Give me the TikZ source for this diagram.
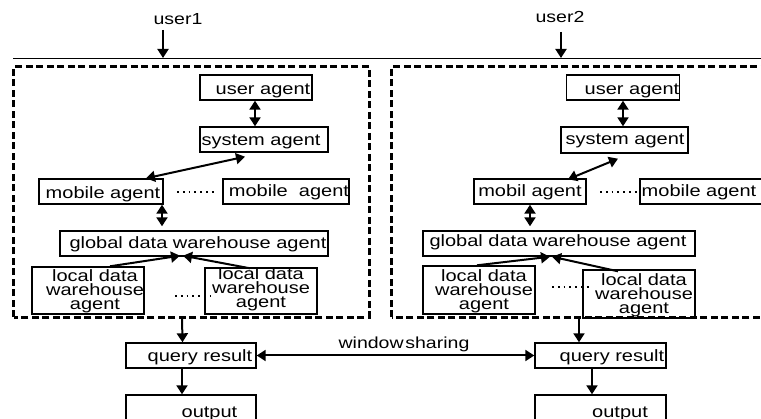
\documentclass[tikz,border=0pt]{standalone}
\usepackage{fontspec}
\setmainfont[FakeStretch=1.22]{Liberation Sans}
\usetikzlibrary{arrows.meta}
\tikzset{
  boxnode/.style={draw=black,line width=1.4pt,inner sep=0pt,font=\fontsize{16.4pt}{15pt}\selectfont},
  plaintext/.style={inner sep=0pt,font=\fontsize{16pt}{15pt}\selectfont},
  region/.style={inner sep=0pt},
  regionline/.style={draw=black,line width=2.7pt,dash pattern=on 7pt off 3.5pt},
  conn/.style={line width=2pt,-{Triangle[length=9pt,width=11pt]}},
  biconn/.style={line width=2pt,{Triangle[length=9pt,width=11pt]}-{Triangle[length=9pt,width=11pt]}},
  dotrow/.style={line width=1.7pt,dash pattern=on 1.8pt off 4pt},
  rulebar/.style={line width=0.9pt}
}
% name, x0, y0, x1, y1, text centre x, last baseline y, text
\newcommand\bx[8]{%
  \pgfmathsetmacro\bxw{#4-#2}\pgfmathsetmacro\bxh{#5-#3}%
  \pgfmathsetmacro\bxcx{(#2+#4)/2}\pgfmathsetmacro\bxcy{(#3+#5)/2}%
  \pgfmathsetmacro\bxdx{2*(#6-\bxcx)}\pgfmathsetmacro\bxth{2*(#7-\bxcy)}%
  \node[boxnode,minimum width=\bxw pt,minimum height=\bxh pt,text height=\bxth pt,text depth=0pt] (#1) at (\bxcx,\bxcy) {\hspace*{\bxdx pt}#8};%
}
\newcommand\threelines[3]{\vbox{\baselineskip=14pt\halign{\hfil##\hfil\cr #1\cr #2\cr #3\cr}}}
\begin{document}
\begin{tikzpicture}[x=1pt,y=-1pt]
\useasboundingbox (0,0) rectangle (761,419);
\clip (0,0) rectangle (761,419);
\node[region,minimum width=355pt,minimum height=250pt] (regionA) at (191.5,192) {};
\node[region,minimum width=390pt,minimum height=250pt] (regionB) at (587,192) {};
\draw[regionline] (regionA.south west) rectangle (regionA.north east);
\draw[regionline] (regionB.south west) rectangle (regionB.north east);
\coordinate (barL) at (13,58);
\coordinate (barR) at (761,58);
\draw[rulebar] (barL) -- (barR);
\node[plaintext,text height=0pt,text depth=0pt] (user1) at (178,25) {user1};
\node[plaintext,text height=0pt,text depth=0pt] (user2) at (560,23) {user2};
\coordinate (hitA) at (163,58);
\coordinate (hitB) at (561,58);
\coordinate (fromA) at (163,30);
\coordinate (fromB) at (561,32);
\draw[conn] (fromA) -- (hitA);
\draw[conn] (fromB) -- (hitB);
% left column
\bx{uaA}{200}{75}{312}{100}{263}{95}{user agent}
\bx{saA}{200}{127}{328}{152}{261}{146}{system agent}
\bx{maA}{39}{179}{163}{204}{103}{199}{mobile agent}
\bx{mbA}{223}{179}{349}{204}{289}{197}{mobile\ \ agent}
\bx{gdA}{60}{231}{328}{256}{198}{249}{global data warehouse agent}
\bx{ldA}{32}{267}{144}{314}{95}{310}{\threelines{local data}{warehouse}{agent}}
\bx{leA}{205}{268}{317}{314}{261}{308}{\threelines{local data}{warehouse}{agent}}
\bx{qrA}{126}{343}{256}{368}{200}{362}{query result}
\bx{ouA}{126}{395}{256}{440}{209.5}{413}{output}
% right column
\bx{uaB}{567}{75}{679}{100}{632}{95}{user agent}
\bx{saB}{561}{127}{688}{153}{625}{145}{system agent}
\bx{maB}{474}{179}{586}{204}{530}{197}{mobil agent}
\bx{mbB}{640}{179}{775}{204}{699}{197}{mobile agent}
\bx{gdB}{423}{231}{695}{256}{558}{247}{global data warehouse agent}
\bx{ldB}{423}{266}{535}{314}{484}{310}{\threelines{local data}{warehouse}{agent}}
\bx{leB}{583}{270}{695}{318}{644}{314}{\threelines{local data}{warehouse}{agent}}
\bx{qrB}{535}{343}{666}{368}{612}{362}{query result}
\bx{ouB}{535}{395}{666}{440}{620}{413}{output}
% connectors left
\draw[biconn] ([xshift=-1pt]uaA.south) -- ([xshift=-9pt]saA.north);
\draw[biconn] ([xshift=-19pt,yshift=-4pt]saA.south) -- ([xshift=45pt]maA.north);
\draw[biconn] ([xshift=61pt]maA.south) -- ([xshift=-32pt,yshift=4pt]gdA.north);
\draw[conn] ([xshift=22pt]ldA.north) -- ([xshift=-14pt,yshift=1pt]gdA.south);
\draw[conn] ([xshift=-11pt,yshift=-1pt]leA.north) -- ([xshift=-11pt,yshift=1pt]gdA.south);
\draw[conn] ([xshift=-9.5pt]regionA.south) -- ([xshift=-9pt]qrA.north -| regionA.south);
\draw[conn] ([xshift=-9pt]qrA.south -| qrA.south) -- ([xshift=-9pt]ouA.north);
% connectors right
\draw[biconn] ([xshift=0pt]uaB.south) -- ([xshift=-1.5pt]saB.north);
\draw[biconn] ([xshift=-6.5pt,yshift=-5pt]saB.south) -- ([xshift=38pt,yshift=-1pt]maB.north);
\draw[biconn] (maB.south) -- ([xshift=-29pt,yshift=4pt]gdB.north);
\draw[conn] ([xshift=-2pt]ldB.north) -- ([xshift=-9pt]gdB.south);
\draw[conn] ([xshift=-21pt,yshift=-2pt]leB.north) -- ([xshift=-7pt]gdB.south);
\draw[conn] ([xshift=-60pt]leB.south) -- ([xshift=-21.5pt]qrB.north);
\draw[conn] ([xshift=-8.5pt]qrB.south) -- ([xshift=-8.5pt]ouB.north);
% sharing
\draw[biconn] (qrA.east) -- (qrB.west);
\node[plaintext,text height=0pt,text depth=0pt] (share) at (404,349) {window\hspace{-1pt}\,sharing};
% ellipsis rows
\coordinate (dA1) at (177,192);\coordinate (dA2) at (214,192);
\coordinate (dA3) at (175,296);\coordinate (dA4) at (211,296);
\coordinate (dB1) at (600,192);\coordinate (dB2) at (638,192);
\coordinate (dB3) at (552,287);\coordinate (dB4) at (589,287);
\draw[dotrow] (dA1) -- (dA2);
\draw[dotrow] (dA3) -- (dA4);
\draw[dotrow] (dB1) -- (dB2);
\draw[dotrow] (dB3) -- (dB4);
\end{tikzpicture}
\end{document}
